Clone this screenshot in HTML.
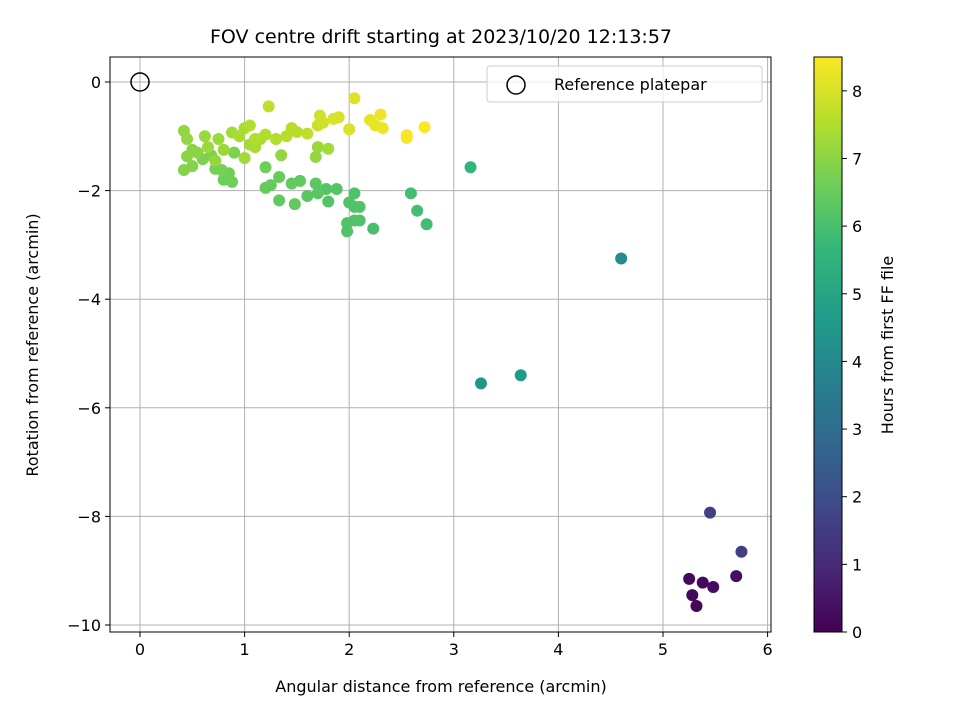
<!DOCTYPE html>
<html><head><meta charset="utf-8"><style>
body{margin:0;background:#fff;font-family:"Liberation Sans","DejaVu Sans",sans-serif}
</style></head><body>
<svg id="c" width="960" height="720" xmlns="http://www.w3.org/2000/svg" font-family="DejaVu Sans, Liberation Sans, sans-serif"></svg>
<script>
const xs=[5.25,5.28,5.32,5.38,5.48,5.7,5.45,5.75,4.6,3.26,3.64,3.16,2.59,2.65,2.74,2.23,2.0,2.05,1.98,1.98,2.05,2.1,2.1,2.05,1.88,1.8,1.78,1.68,1.7,1.6,1.53,1.45,1.48,1.33,1.33,1.2,1.25,1.2,0.88,0.8,0.85,0.78,0.72,0.9,0.68,0.6,0.5,0.42,0.45,0.5,0.55,0.45,0.42,0.62,0.65,0.75,0.8,0.72,0.88,1.0,0.95,1.05,1.0,1.1,1.15,1.2,1.05,1.1,1.3,1.35,1.4,1.45,1.5,1.6,1.23,1.68,1.7,1.8,1.7,1.72,1.75,1.85,1.9,2.0,2.05,2.2,2.25,2.3,2.32,2.55,2.55,2.72];
const ys=[-9.15,-9.45,-9.65,-9.22,-9.3,-9.1,-7.93,-8.65,-3.25,-5.55,-5.4,-1.57,-2.05,-2.37,-2.62,-2.7,-2.22,-2.3,-2.6,-2.75,-2.55,-2.55,-2.3,-2.05,-1.97,-2.2,-1.97,-1.87,-2.05,-2.1,-1.82,-1.87,-2.25,-2.18,-1.75,-1.95,-1.9,-1.57,-1.84,-1.8,-1.68,-1.62,-1.6,-1.3,-1.35,-1.42,-1.55,-1.62,-1.37,-1.25,-1.3,-1.05,-0.9,-1.0,-1.2,-1.05,-1.25,-1.45,-0.93,-0.85,-1.0,-1.15,-1.4,-1.2,-1.05,-0.97,-0.8,-1.05,-1.05,-1.35,-1.0,-0.85,-0.92,-0.95,-0.45,-1.38,-1.2,-1.23,-0.8,-0.62,-0.75,-0.68,-0.65,-0.87,-0.3,-0.7,-0.8,-0.6,-0.85,-0.98,-1.03,-0.83];
const hs=[0.2,0.2,0.1,0.2,0.3,0.3,1.6,1.6,4.1,4.5,4.6,5.6,5.9,5.9,5.9,6.0,6.1,6.1,6.1,6.1,6.1,6.1,6.1,6.1,6.2,6.2,6.2,6.3,6.3,6.3,6.4,6.4,6.4,6.4,6.5,6.5,6.5,6.6,6.6,6.6,6.6,6.7,6.7,6.8,6.8,6.8,6.9,6.9,7.0,7.0,7.0,7.1,7.1,7.2,7.2,7.2,7.2,7.1,7.3,7.4,7.4,7.3,7.3,7.4,7.4,7.5,7.5,7.5,7.5,7.1,7.6,7.6,7.6,7.7,7.7,7.1,7.2,7.3,7.8,7.9,7.9,8.0,8.0,8.0,8.1,8.2,8.2,8.3,8.3,8.4,8.4,8.5];
const xTicks=[0,1,2,3,4,5,6];
const yTicks=[0,-2,-4,-6,-8,-10];
const cTicks=[0,1,2,3,4,5,6,7,8];
const L=110,R=771,T=57,B=632;
const X=v=>140+v*104.6, Y=v=>82-v*54.3;
const CMIN=0,CMAX=8.5, CY=v=>632-(v-CMIN)/(CMAX-CMIN)*575;
const vir=[[68,1,84],[72,40,120],[62,74,137],[49,104,142],[38,130,142],[31,158,137],[53,183,121],[110,206,88],[181,222,43],[253,231,37]];
function col(h){let t=Math.max(0,Math.min(1,(h-CMIN)/(CMAX-CMIN)))*9,i=Math.min(8,Math.floor(t)),f=t-i,a=vir[i],b=vir[i+1];return`rgb(${a.map((v,k)=>Math.round(v+(b[k]-v)*f)).join(',')})`;}
const s=document.getElementById('c');const NS='http://www.w3.org/2000/svg';
function el(t,a,p){const e=document.createElementNS(NS,t);for(const k in a)e.setAttribute(k,a[k]);(p||s).appendChild(e);return e;}
function tx(x,y,str,a,name){const e=el('text',Object.assign({x,y,'font-size':16,fill:'#000'},a));e.textContent=str;return e;}
// grid
xTicks.forEach(v=>{const g=el('line',{x1:X(v),x2:X(v),y1:T,y2:B,stroke:'#b0b0b0','stroke-width':1});
const k=el('line',{x1:X(v),x2:X(v),y1:B,y2:B+5,stroke:'#000'});
tx(X(v),B+23,String(v),{'text-anchor':'middle'},'x-tick-label');});
yTicks.forEach(v=>{const g=el('line',{x1:L,x2:R,y1:Y(v),y2:Y(v),stroke:'#b0b0b0','stroke-width':1});
const k=el('line',{x1:L-5,x2:L,y1:Y(v),y2:Y(v),stroke:'#000'});
tx(L-9,Y(v)+6,v<0?'\u2212'+(-v):String(v),{'text-anchor':'end'},'y-tick-label');});
// points
xs.forEach((x,i)=>{const c=el('circle',{cx:X(x),cy:Y(ys[i]),r:6,fill:col(hs[i])});});
const ref=el('circle',{cx:X(0),cy:Y(0),r:9,fill:'none',stroke:'#000','stroke-width':1.5});
const fr=el('rect',{x:L,y:T,width:R-L,height:B-T,fill:'none',stroke:'#000','stroke-width':1});
// legend
const lg=el('rect',{x:487,y:66,width:275,height:36,rx:3,fill:'#fff','fill-opacity':0.8,stroke:'#ccc'});
const lc=el('circle',{cx:516,cy:85,r:9,fill:'none',stroke:'#000','stroke-width':1.5});
tx(554,90,'Reference platepar',{},'legend-label');
tx(441,43,'FOV centre drift starting at 2023/10/20 12:13:57',{'text-anchor':'middle','font-size':19},'chart-title');
tx(441,692,'Angular distance from reference (arcmin)',{'text-anchor':'middle'},'x-axis-title');
tx(38,345,'Rotation from reference (arcmin)',{'text-anchor':'middle',transform:'rotate(-90 38 345)'},'y-axis-title');
// colorbar
const defs=el('defs',{});const gr=el('linearGradient',{id:'g',x1:0,y1:1,x2:0,y2:0},defs);
vir.forEach((c,i)=>el('stop',{offset:i/9,'stop-color':`rgb(${c})`},gr));
const cb=el('rect',{x:814,y:57,width:28,height:575,fill:'url(#g)',stroke:'#000','stroke-width':1});
cTicks.forEach(v=>{const k=el('line',{x1:842,x2:847,y1:CY(v),y2:CY(v),stroke:'#000'});
tx(852,CY(v)+6,String(v),{},'colorbar-tick-label');});
tx(893,345,'Hours from first FF file',{'text-anchor':'middle',transform:'rotate(-90 893 345)'},'colorbar-title');
</script>
</body></html>
